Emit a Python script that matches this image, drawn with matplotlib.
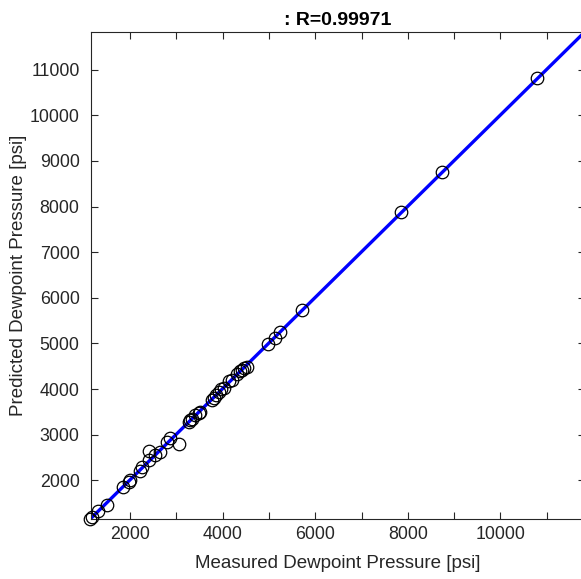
import numpy as np
import matplotlib
matplotlib.use('Agg')
import matplotlib.pyplot as plt

plt.rcParams['font.family'] = ['Liberation Sans', 'DejaVu Sans']

# measured vs predicted dewpoint pressure [psi]
measured = [1143, 1179, 1309, 1503, 1840, 1970, 2006, 2207, 2259, 2402, 2402,
            2546, 2654, 2799, 2870, 3050, 3266, 3302, 3330, 3410, 3482, 3506,
            3771, 3806, 3850, 3914, 3960, 4022, 4130, 4203, 4311, 4382, 4425,
            4469, 4527, 4981, 5123, 5231, 5724, 7862, 8745, 10797]
predicted = [1144, 1188, 1333, 1458, 1846, 1969, 2007, 2211, 2285, 2446, 2643,
             2555, 2628, 2847, 2922, 2797, 3287, 3324, 3350, 3430, 3471, 3506,
             3763, 3800, 3870, 3945, 3990, 4020, 4165, 4202, 4334, 4400, 4422,
             4455, 4481, 4986, 5117, 5240, 5721, 7888, 8768, 10810]
r_value = 0.99971
lims = [1150, 11820]
xtick_vals = list(range(2000, 12000, 1000))
xtick_labels = [str(v) if v % 2000 == 0 else '' for v in xtick_vals]
ytick_vals = list(range(2000, 12000, 1000))

fig = plt.figure(figsize=(5.81, 5.79), dpi=100)
ax = fig.add_axes([90.7 / 581, 60 / 579, 494 / 581, 486.7 / 579])

a, b = np.polyfit(measured, predicted, 1)
xs = np.array(lims)
ax.plot(xs, a * xs + b, color=(0, 0, 1), lw=2.4, zorder=2)
ax.plot(measured, predicted, 'o', mfc='none', mec='black', ms=9, mew=0.9,
        zorder=3, clip_on=False)

ax.set_xlim(lims)
ax.set_ylim(lims)
ax.set_xticks(xtick_vals)
ax.set_xticklabels(xtick_labels)
ax.set_yticks(ytick_vals)

grey = (0.15, 0.15, 0.15)
ax.tick_params(direction='in', length=5, width=0.8, top=True, right=True,
               labelsize=12.8, colors=grey)
ax.tick_params(axis='x', pad=5)
ax.tick_params(axis='y', pad=8)
for s in ax.spines.values():
    s.set_color(grey)
    s.set_linewidth(0.8)

ax.set_xlabel('Measured Dewpoint Pressure [psi]', fontsize=13.5, color=grey, labelpad=9)
ax.set_ylabel('Predicted Dewpoint Pressure [psi]', fontsize=13.5, color=grey, labelpad=2)
ax.set_title(f': R={r_value}', fontsize=14, fontweight='bold', pad=5)

fig.savefig('out.png', dpi=100)
